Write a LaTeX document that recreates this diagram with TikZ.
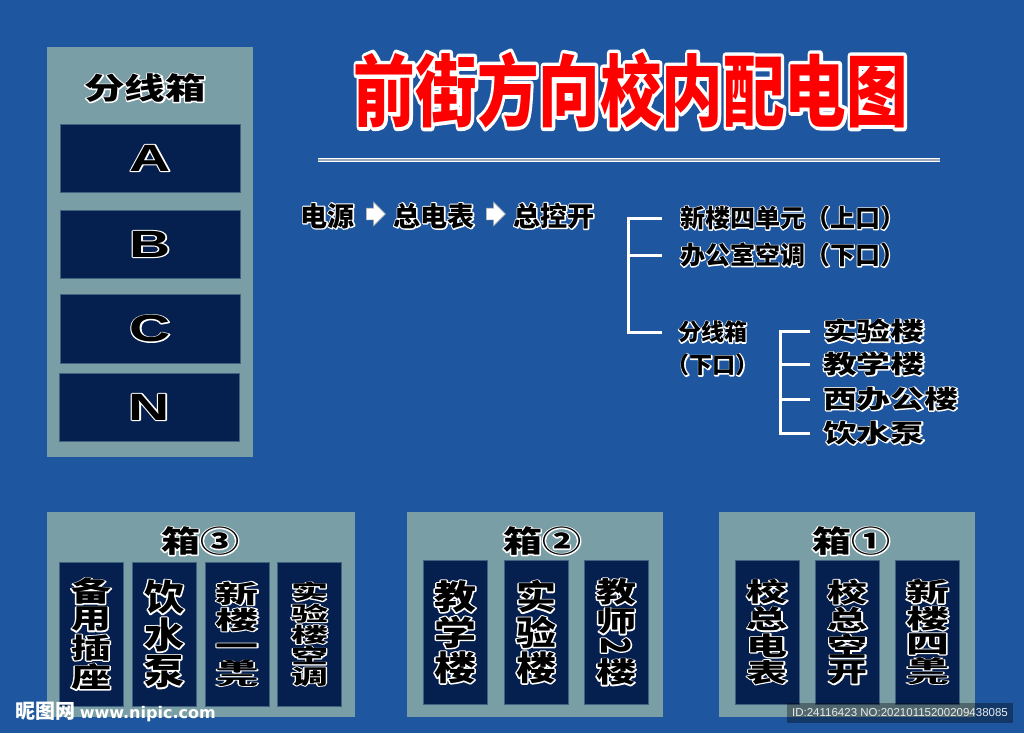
\documentclass[tikz,border=0pt]{standalone}
\usepackage{fontspec}
\usepackage{graphicx}
\usetikzlibrary{shapes.arrows,calc}
\setmainfont{Liberation Sans}
\newfontfamily\cjk{Noto Sans CJK SC}
\newfontfamily\dvs{DejaVu Sans}
\definecolor{bgblue}{HTML}{1E57A0}
\definecolor{panelgrey}{HTML}{7A9EA6}
\definecolor{navy}{HTML}{051F4F}
\definecolor{cellline}{HTML}{41627F}
\definecolor{titlered}{HTML}{FF0000}
\definecolor{linegrey}{HTML}{9AA8B8}
% outlined text: white stroke pass under a filled pass
\newcommand\halo[3][black]{%
  \makebox[0pt][l]{\special{pdf:literal direct 1 Tr 1 1 1 RG #2 w 1 j 1 J}#3\special{pdf:literal direct 0 Tr}}%
  \textcolor{#1}{#3}}
\newcommand\hc[1]{\halo{3}{#1}}
\newcommand\vstack[1]{\vbox{\baselineskip=0pt\lineskip=4pt\lineskiplimit=0pt\halign{\hfil##\hfil\cr#1\crcr}}}
\newcommand\vcol[3]{\resizebox*{#1pt}{#2pt}{\fontsize{40}{40}\cjk\bfseries\vstack{#3}}}
\newcommand\squish[2]{\scalebox{1}[0.55]{\vstack{\hc{#1}\cr \hc{#2}}}}
\newcommand\bigletter[1]{{\fontsize{38}{38}\selectfont\bfseries\scalebox{1.5}[1]{\halo{2}{#1}}}}
\newcommand\cf[1]{\fontsize{#1}{#1}\cjk\bfseries}
\begin{document}
\begin{tikzpicture}[x=1pt,y=-1pt,
  panel/.style={fill=panelgrey, draw=none, inner sep=0pt},
  cell/.style={fill=navy, draw=cellline, line width=0.8pt, inner sep=0pt},
  lbl/.style={inner sep=0pt, text=black},
  bracket/.style={draw=white, line width=3pt},
  blockarrow/.style={single arrow, fill=white, draw=gray!60, line width=0.6pt,
    inner xsep=0pt, inner ysep=5.5pt, minimum height=19pt,
    single arrow head extend=6pt, single arrow tip angle=90},
]
\useasboundingbox (0,0) rectangle (1024,733);
\fill[bgblue] (0,0) rectangle (1024,733);

% ---------- left panel ----------
\node[panel, minimum width=206, minimum height=410, anchor=north west] (lpanel) at (47,47) {};
\node[lbl] (lptitle) at (145,88) {\cf{30}\scalebox{1.35}[1]{\halo{2.2}{分线箱}}};
\node[cell, minimum width=180, minimum height=68] (cA) at (150,158) {\bigletter{A}};
\node[cell, minimum width=180, minimum height=68] (cB) at (150,244) {\bigletter{B}};
\node[cell, minimum width=180, minimum height=69] (cC) at (150,328.5) {\bigletter{C}};
\node[cell, minimum width=180, minimum height=68] (cN) at (149,407) {\bigletter{N}};

% ---------- title ----------
\node[lbl] (title) at (631,90) {\cf{76}\scalebox{0.81}[1.03]{\halo[titlered]{7}{前街方向校内配电图}}};
\coordinate (ul1) at (318,160);
\coordinate (ul2) at (940,160);
\draw[white, line width=1pt, double=linegrey, double distance=1.2pt] (ul1) -- (ul2);

% ---------- flow ----------
\node[lbl] (src) at (327.5,216) {\cf{27}\halo{2.4}{电源}};
\node[lbl] (meter) at (434,216) {\cf{27}\halo{2.4}{总电表}};
\node[lbl] (mainsw) at (554,216) {\cf{27}\halo{2.4}{总控开}};
\node[blockarrow] (ar1) at ($(src.east)!0.5!(meter.west)+(-1,-2)$) {};
\node[blockarrow] (ar2) at ($(meter.east)!0.5!(mainsw.west)+(-1,-2)$) {};

% ---------- branches ----------
\node[lbl, anchor=west] (b1) at (680,218) {\cf{25}\halo{2}{新楼四单元（上口）}};
\node[lbl, anchor=west] (b2) at (680,255) {\cf{25}\halo{2}{办公室空调（下口）}};
\node[lbl, anchor=west] (b3) at (678,332) {\cf{23}\halo{2}{分线箱}};
\node[lbl, anchor=west] (b4) at (678,365) {\cf{23}\halo{2}{\makebox[0.5em][r]{（}下口\makebox[0.5em][l]{）}}};
\coordinate (v1) at (628,0);
\coordinate (e1) at (662,0);
\draw[bracket] (b1.west -| e1) -- (b1.west -| v1) -- (b3.west -| v1) -- (b3.west -| e1);
\draw[bracket] (b2.west -| v1) -- (b2.west -| e1);

\node[lbl, anchor=west] (s1) at (823,331) {\cf{25}\scalebox{1.35}[1]{\halo{2}{实验楼}}};
\node[lbl, anchor=west] (s2) at (823,364) {\cf{25}\scalebox{1.35}[1]{\halo{2}{教学楼}}};
\node[lbl, anchor=west] (s3) at (823,399) {\cf{25}\scalebox{1.35}[1]{\halo{2}{西办公楼}}};
\node[lbl, anchor=west] (s4) at (823,433) {\cf{25}\scalebox{1.35}[1]{\halo{2}{饮水泵}}};
\coordinate (v2) at (780,0);
\coordinate (e2) at (810,0);
\draw[bracket] (s1.west -| e2) -- (s1.west -| v2) -- (s4.west -| v2) -- (s4.west -| e2);
\draw[bracket] (s2.west -| v2) -- (s2.west -| e2);
\draw[bracket] (s3.west -| v2) -- (s3.west -| e2);

% ---------- box 3 ----------
\node[panel, minimum width=308, minimum height=205] (box3) at (201,614.5) {};
\node[lbl] (t3) at (200,541) {\cf{30}\scalebox{1.3}[1]{\halo{2.2}{箱③}}};
\node[cell, minimum width=64, minimum height=144] (c31) at (91,634) {\vcol{40}{112}{\hc{备}\cr \hc{用}\cr \hc{插}\cr \hc{座}}};
\node[cell, minimum width=64, minimum height=144] (c32) at (164,634) {\vcol{40}{108}{\hc{饮}\cr \hc{水}\cr \hc{泵}}};
\node[cell, minimum width=64, minimum height=144] (c33) at (237,634) {\vcol{43}{105}{\hc{新}\cr \hc{楼}\cr \hc{\vphantom{楼}一}\cr \squish{单}{元}}};
\node[cell, minimum width=64, minimum height=144] (c34) at (309.5,634) {\vcol{37}{104}{\hc{实}\cr \hc{验}\cr \hc{楼}\cr \hc{空}\cr \hc{调}}};

% ---------- box 2 ----------
\node[panel, minimum width=256, minimum height=205] (box2) at (535,614.5) {};
\node[lbl] (t2) at (542,541) {\cf{30}\scalebox{1.3}[1]{\halo{2.2}{箱②}}};
\node[cell, minimum width=64, minimum height=144] (c21) at (455,632) {\vcol{42}{103}{\hc{教}\cr \hc{学}\cr \hc{楼}}};
\node[cell, minimum width=64, minimum height=144] (c22) at (536,632) {\vcol{40}{103}{\hc{实}\cr \hc{验}\cr \hc{楼}}};
\node[cell, minimum width=64, minimum height=144] (c23) at (616,632) {\vcol{40}{107}{\hc{教}\cr \hc{师}\cr \rotatebox[origin=c]{-90}{\hc{2}}\cr \hc{楼}}};

% ---------- box 1 ----------
\node[panel, minimum width=256, minimum height=205] (box1) at (847,614.5) {};
\node[lbl] (t1) at (851,541) {\cf{30}\scalebox{1.3}[1]{\halo{2.2}{箱①}}};
\node[cell, minimum width=64, minimum height=144] (c11) at (767,632) {\vcol{41}{105}{\hc{校}\cr \hc{总}\cr \hc{电}\cr \hc{表}}};
\node[cell, minimum width=64, minimum height=144] (c12) at (847.5,632) {\vcol{40}{105}{\hc{校}\cr \hc{总}\cr \hc{空}\cr \hc{开}}};
\node[cell, minimum width=64, minimum height=144] (c13) at (927.5,632) {\vcol{43}{105}{\hc{新}\cr \hc{楼}\cr \hc{四}\cr \squish{单}{元}}};

% ---------- watermarks ----------
\node[lbl, anchor=west, text=white] (wm) at (15,712) {\cf{20}昵图网\ \dvs\fontsize{16}{16}\selectfont www.nipic.com};
\node[fill=black, fill opacity=0.35, text opacity=1, text=white!85!gray, minimum width=226, minimum height=20, inner sep=0pt] (idbox) at (900,713) {\fontsize{11.5}{11.5}\selectfont ID:24116423 NO:20210115200209438085};
\end{tikzpicture}
\end{document}
